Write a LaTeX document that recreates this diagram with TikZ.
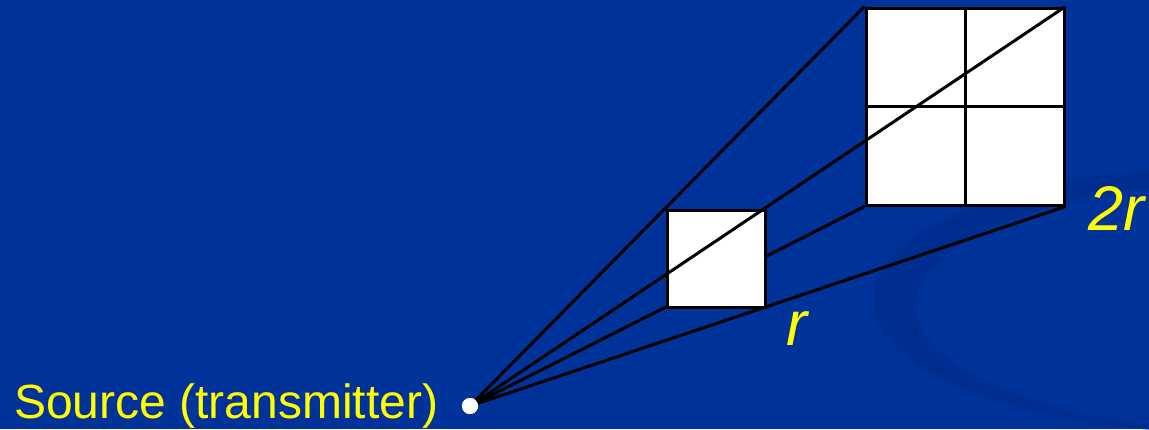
\documentclass[tikz,border=0pt]{standalone}
\usepackage{fontspec}
\setmainfont{Liberation Sans}
\pgfdeclarelayer{back}
\pgfdeclarelayer{lines}
\pgfsetlayers{back,lines,main}
\definecolor{slide}{RGB}{0,51,153}
\definecolor{swoosh}{RGB}{0,46,144}
\definecolor{labelyellow}{RGB}{255,255,0}
\tikzset{
  ray/.style={black, line width=3pt},
  sq/.style={draw=black, fill=white, line width=3pt, inner sep=0pt, rectangle},
  lbl/.style={text=labelyellow, inner sep=0pt, anchor=base west},
  srcdot/.style={circle, fill=white, draw=none, minimum size=16pt, inner sep=0pt}
}
\begin{document}
\begin{tikzpicture}[x=1pt,y=-1pt]
\useasboundingbox (0,0) rectangle (1149,429);
% background and swoosh
\begin{pgfonlayer}{back}
\fill[slide] (0,0) rectangle (1149,429);
\begin{scope}
\clip (0,0) rectangle (1149,429);
\fill[swoosh, even odd rule] (1215,300) ellipse [x radius=342, y radius=132]
  (1252,306) ellipse [x radius=336, y radius=124];
\end{scope}
\end{pgfonlayer}
% nodes
\node[sq, minimum width=98pt, minimum height=97pt] (small) at (716,258.5) {};
\node[sq, minimum width=198pt, minimum height=197pt] (big) at (965,106.5) {};
\node[srcdot] (src) at (470,406) {};
\draw[black, line width=3pt] (big.north) -- (big.south) (big.west) -- (big.east);
% rays behind squares
\begin{pgfonlayer}{lines}
\draw[ray] (src.center) -- (big.north west);
\draw[ray] (src.center) -- (big.south west);
\draw[ray] (src.center) -- (big.south east);
\end{pgfonlayer}
% ray over squares
\draw[ray] (src.center) -- (big.north east);
\node[srcdot] at (src) {};
% labels
\node[lbl, font=\fontsize{48}{55}\selectfont] (srclbl) at (14,418) {Source (transmitter)};
\node[lbl, font=\fontsize{63}{70}\selectfont\itshape] (rlbl) at (786,345) {r};
\node[lbl, font=\fontsize{63}{70}\selectfont\itshape] (tworlbl) at (1088,230) {2r};
\end{tikzpicture}
\end{document}
